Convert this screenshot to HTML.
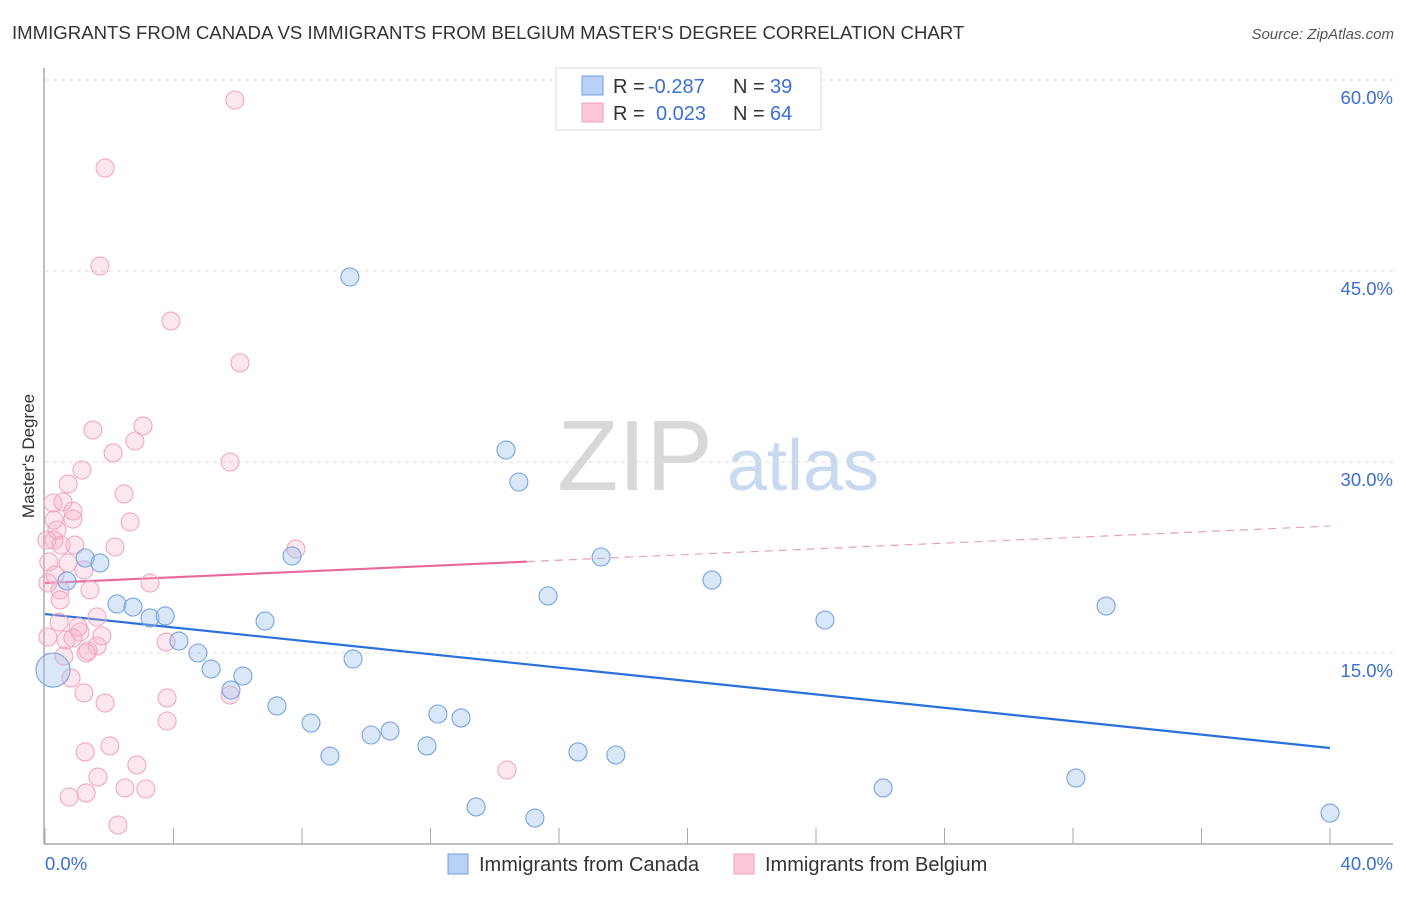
<!DOCTYPE html>
<html><head><meta charset="utf-8"><style>
body{margin:0;background:#fff;font-family:"Liberation Sans",sans-serif;}
svg text{font-family:"Liberation Sans",sans-serif;}
</style></head><body>
<svg id="chart" width="1406" height="892" viewBox="0 0 1406 892" xmlns="http://www.w3.org/2000/svg">
<text x="12" y="39" font-size="18.6" fill="#333">IMMIGRANTS FROM CANADA VS IMMIGRANTS FROM BELGIUM MASTER'S DEGREE CORRELATION CHART</text>
<text x="1394" y="39" font-size="15" font-style="italic" fill="#555" text-anchor="end">Source: ZipAtlas.com</text>
<text transform="translate(34,456) rotate(-90)" font-size="17" fill="#333" text-anchor="middle">Master's Degree</text>
<g>
<text x="635" y="490" font-size="100" font-family="Liberation Serif,serif" fill="#d8d8d8" text-anchor="middle">ZIP</text>
<text x="803" y="490" font-size="72" fill="#c8d9f0" text-anchor="middle">atlas</text>
</g>
<g id="grid"></g><g id="axes"></g><g id="trend"></g><g id="points"></g>
<g>
<rect x="556" y="68" width="265" height="62" fill="#fff" stroke="#ddd"/>
<rect x="582" y="76" width="21" height="19" fill="#b9d1f5" stroke="#6f9de0"/>
<rect x="582" y="103" width="21" height="19" fill="#fcc9d8" stroke="#ef9fb8"/>
<text x="613" y="93" font-size="20" fill="#333">R =</text><text x="648" y="93" font-size="20" fill="#3b6fd4">-0.287</text>
<text x="733" y="93" font-size="20" fill="#333">N =</text><text x="770" y="93" font-size="20" fill="#3b6fd4">39</text>
<text x="613" y="120" font-size="20" fill="#333">R =</text><text x="656" y="120" font-size="20" fill="#3b6fd4">0.023</text>
<text x="733" y="120" font-size="20" fill="#333">N =</text><text x="770" y="120" font-size="20" fill="#3b6fd4">64</text>
</g>
<g>
<rect x="448" y="854" width="20" height="20" fill="#b9d1f5" stroke="#6f9de0"/>
<text x="479" y="871" font-size="20" fill="#333">Immigrants from Canada</text>
<rect x="734" y="854" width="20" height="20" fill="#fcc9d8" stroke="#ef9fb8"/>
<text x="765" y="871" font-size="20" fill="#333">Immigrants from Belgium</text>
</g>
</svg>
<script>
const canadaX=[9.49,14.35,14.75,17.31,20.76,15.66,24.28,33.03,1.25,1.71,0.68,2.24,2.74,3.27,3.74,4.17,4.76,5.17,6.16,5.79,6.85,7.69,9.59,7.22,8.28,8.87,10.15,10.74,11.89,12.23,12.95,16.59,17.77,26.09,32.09,13.42,15.25,40.0,0.25];
const canadaY=[44.53,30.94,28.43,22.54,20.73,19.48,17.59,18.69,22.46,22.07,20.65,18.85,18.61,17.75,17.91,15.94,15.0,13.74,13.19,12.09,17.51,22.62,14.53,10.84,9.50,6.91,8.56,8.87,7.70,10.21,9.90,7.23,6.99,4.40,5.18,2.91,2.04,2.43,13.66];
const belgiumX=[5.91,1.87,1.71,3.92,6.07,3.05,1.49,2.80,2.12,5.76,1.15,0.72,2.46,0.25,0.56,0.28,0.87,2.65,0.28,0.50,0.93,2.18,7.81,0.12,0.72,1.21,3.27,0.09,0.47,1.62,0.44,1.03,1.09,0.87,1.77,0.09,1.62,1.34,1.28,3.77,0.59,0.81,1.21,3.80,1.87,5.76,3.80,2.02,1.25,2.86,1.65,14.38,2.49,3.14,1.28,0.75,2.27,0.87,0.37,0.47,0.31,1.40,0.06,0.65];
const belgiumY=[58.43,53.09,45.39,41.07,37.78,32.83,32.51,31.65,30.71,30.0,29.37,28.27,27.49,26.78,26.86,25.45,25.52,25.29,23.87,23.48,23.48,23.32,23.17,22.15,22.07,21.52,20.50,20.50,19.95,17.83,17.43,17.04,16.65,16.18,16.34,16.26,15.55,15.16,15.0,15.86,14.76,13.04,11.86,11.47,11.07,11.70,9.66,7.70,7.23,6.20,5.26,5.81,4.40,4.32,4.01,3.69,1.49,26.15,24.66,19.16,21.13,19.95,23.87,16.02];
const canadaTrend=[18.06,7.54];
const belgiumTrend=[20.5,24.97];
const yTicks=[15,30,45,60];
const xTickVals=[0,4,8,12,16,20,24,28,32,36,40];
const NS="http://www.w3.org/2000/svg";
const sx=v=>45+v/40*1285;
const sy=v=>844-v/15*191;
function mk(tag,attrs,parent){const e=document.createElementNS(NS,tag);for(const k in attrs)e.setAttribute(k,attrs[k]);parent.appendChild(e);return e;}
const grid=document.getElementById('grid'),axes=document.getElementById('axes'),trend=document.getElementById('trend'),pts=document.getElementById('points');
yTicks.forEach(t=>{
 const l=mk('line',{x1:45,x2:1393,y1:sy(t),y2:sy(t),stroke:'#ddd','stroke-dasharray':'4,4'},grid);
 
 
 const tx=mk('text',{x:1393,y:sy(t)+24,'font-size':18.5,fill:'#3b6fd4','text-anchor':'end'},grid);
 tx.textContent=t.toFixed(1)+'%';
 
 
});
const ya=mk('line',{x1:44,x2:44,y1:68,y2:844,stroke:'#aaa','stroke-width':1.5},axes);


const xa=mk('line',{x1:44,x2:1393,y1:844,y2:844,stroke:'#aaa','stroke-width':1.5},axes);


xTickVals.forEach(t=>{
 const l=mk('line',{x1:sx(t),x2:sx(t),y1:828,y2:844,stroke:'#aaa'},axes);
 
 
});
[[0,'start'],[40,'end']].forEach(([t,a])=>{
 const tx=mk('text',{x:t==0?45:1393,y:870,'font-size':18.5,fill:'#3b6fd4','text-anchor':a},axes);
 tx.textContent=t.toFixed(1)+'%';
 
 
});
const ct=mk('line',{x1:sx(0),y1:sy(canadaTrend[0]),x2:sx(40),y2:sy(canadaTrend[1]),stroke:'#2a6fdc','stroke-width':2.2},trend);


const bmid=belgiumTrend[0]+(belgiumTrend[1]-belgiumTrend[0])*15/40;
const bt=mk('line',{x1:sx(0),y1:sy(belgiumTrend[0]),x2:sx(15),y2:sy(bmid),stroke:'#e8689a','stroke-width':2.2},trend);


const bd=mk('line',{x1:sx(15),y1:sy(bmid),x2:sx(40),y2:sy(belgiumTrend[1]),stroke:'#e8a0b8','stroke-width':1.2,'stroke-dasharray':'8,6'},trend);


belgiumX.forEach((x,i)=>{
 const c=mk('circle',{cx:sx(x),cy:sy(belgiumY[i]),r:9,fill:'rgba(248,175,198,0.3)',stroke:'#f0a8c0','stroke-width':1.1},pts);
 
 
});
canadaX.forEach((x,i)=>{
 const big=i==canadaX.length-1;
 const c=mk('circle',{cx:sx(x),cy:sy(canadaY[i]),r:big?17:9,fill:'rgba(160,195,240,0.4)',stroke:'#78a3e2','stroke-width':1.1},pts);
 
 
});
</script>
</body></html>
